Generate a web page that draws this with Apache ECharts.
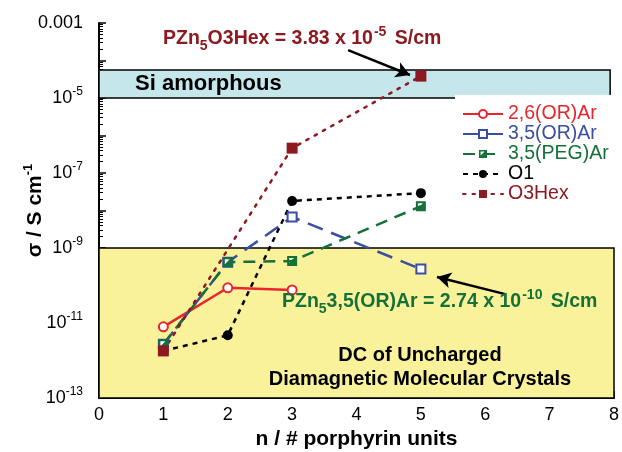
<!DOCTYPE html>
<html><head><meta charset="utf-8">
<script src="https://cdn.jsdelivr.net/npm/echarts@6/dist/echarts.min.js"></script>
<style>html,body{margin:0;padding:0;background:#fff}#c{width:622px;height:452px}</style>
</head><body><div id="c"></div>
<script>
// ---- data ----
const seriesNames = ['2,6(OR)Ar', '3,5(OR)Ar', '3,5(PEG)Ar', 'O1', 'O3Hex'];
const nOR26 = [1, 2, 3];
const sOR26 = [7.9e-12, 8.7e-11, 7.6e-11];
const nOR35 = [1, 2, 3, 5];
const sOR35 = [2.7e-12, 4.2e-10, 6.7e-9, 2.74e-10];
const nPEG = [1, 2, 3, 5];
const sPEG = [2.7e-12, 4.2e-10, 4.5e-10, 1.3e-8];
const nO1 = [1, 2, 3, 5];
const sO1 = [1.8e-12, 4.7e-12, 1.8e-8, 2.9e-8];
const nO3Hex = [1, 3, 5];
const sO3Hex = [1.8e-12, 4.6e-7, 3.83e-5];
const xTicks = [0, 1, 2, 3, 4, 5, 6, 7, 8];
const yLabelExps = [-13, -11, -9, -7, -5, -3];
const siBand = [1e-5, 5.6e-5];
const dcBand = [1e-13, 1e-9];

const FONT = '"Liberation Sans", Arial, Helvetica, sans-serif';
const pair = (xs, ys) => xs.map((x, i) => [x, ys[i]]);
const colors = ['#e8262b', '#3a4ea2', '#15703a', '#000000', '#8c1a20'];

const chart = echarts.init(document.getElementById('c'), null, {renderer: 'canvas'});
const halfSq = 'path://M0,0H10V10H0Z M2,2V7L7,2Z';

const option = {
  animation: false,
  backgroundColor: '#ffffff',
  grid: {left: 99, right: 8, top: 23, bottom: 54, containLabel: false, outerBoundsMode: 'none'},
  xAxis: {
    type: 'value', min: xTicks[0], max: xTicks[xTicks.length - 1], interval: 1,
    axisLine: {show: true, lineStyle: {color: '#000', width: 2}},
    axisTick: {show: true, inside: true, length: 7, lineStyle: {color: '#000', width: 1.5}},
    minorTick: {show: true, splitNumber: 5, length: 4, lineStyle: {color: '#000', width: 1}},
    splitLine: {show: false},
    axisLabel: {fontFamily: FONT, fontSize: 18, color: '#000', margin: 8},
    name: 'n / # porphyrin units', nameLocation: 'middle', nameGap: 31, nameMoveOverlap: false,
    nameTextStyle: {fontFamily: FONT, fontSize: 21, fontWeight: 'bold', color: '#000'}
  },
  yAxis: {
    type: 'log', logBase: 10, min: 1e-13, max: 1e-3,
    axisLine: {show: true, lineStyle: {color: '#000', width: 2}},
    axisTick: {show: true, inside: true, length: 7, lineStyle: {color: '#000', width: 1.5}},
    minorTick: {show: true, splitNumber: 9, length: 4, lineStyle: {color: '#000', width: 1}},
    splitLine: {show: false},
    axisLabel: {
      fontFamily: FONT, fontSize: 18, color: '#000', margin: 16,
      formatter: function (v) {
        const e = Math.round(Math.log10(v));
        if (yLabelExps.indexOf(e) < 0) return '';
        if (e === -3) return '{b|0.001}';
        return '{b|10}{s|' + e + '}';
      },
      rich: {
        b: {fontFamily: FONT, fontSize: 18, color: '#000'},
        s: {fontFamily: FONT, fontSize: 12, color: '#000', padding: [0, 0, 12, 0]}
      }
    },
    name: '{b|σ / S cm}{s|-1}', nameLocation: 'middle', nameGap: 50, nameRotate: 90, nameMoveOverlap: false,
    nameTextStyle: {
      rich: {
        b: {fontFamily: FONT, fontSize: 21, fontWeight: 'bold', color: '#000'},
        s: {fontFamily: FONT, fontSize: 13, fontWeight: 'bold', color: '#000', padding: [0, 0, 14, 0]}
      }
    }
  },
  legend: {
    orient: 'vertical', left: 455, top: 95, itemWidth: 40, itemHeight: 10, itemGap: 0,
    backgroundColor: '#fff', padding: [9, 8, 8, 7],
    textStyle: {fontFamily: FONT, fontSize: 19.5, lineHeight: 18},
    data: seriesNames.map((n, i) => ({name: n, textStyle: {color: colors[i]}}))
  },
  series: [
    {
      name: 'bands', type: 'line', data: [], silent: true, z: 1,
      markArea: {
        silent: true,
        data: [
          [{xAxis: 0, yAxis: siBand[0], itemStyle: {color: '#c5e6ea', borderColor: '#000', borderWidth: 1.5}},
           {xAxis: 7.94, yAxis: siBand[1]}],
          [{xAxis: 0, yAxis: dcBand[0], itemStyle: {color: '#faf29b', borderColor: '#000', borderWidth: 1.5}},
           {xAxis: 8, yAxis: dcBand[1]}]
        ]
      },
      markLine: {
        silent: true, symbol: ['none', 'arrow'], symbolSize: [12, 14],
        label: {show: false},
        lineStyle: {color: '#000', width: 2.5, type: 'solid'},
        data: [
          [{coord: [3.87, 1.9e-4]}, {coord: [4.83, 4.1e-5]}],
          [{coord: [6.31, 5.9e-11]}, {coord: [5.25, 1.69e-10]}]
        ]
      }
    },
    {
      name: seriesNames[0], type: 'line', data: pair(nOR26, sOR26), z: 3,
      color: colors[0], symbol: 'emptyCircle', symbolSize: 9,
      lineStyle: {width: 2.5, type: 'solid'}, itemStyle: {borderWidth: 2}
    },
    {
      name: seriesNames[1], type: 'line', data: pair(nOR35, sOR35), z: 3,
      color: colors[1], symbol: 'emptyRect', symbolSize: 9,
      lineStyle: {width: 2.5, type: [16, 9]}, itemStyle: {borderWidth: 1.8}
    },
    {
      name: seriesNames[2], type: 'line', data: pair(nPEG, sPEG), z: 3,
      color: colors[2], symbol: halfSq, symbolSize: 10,
      lineStyle: {width: 2.5, type: [12, 8]}
    },
    {
      name: seriesNames[3], type: 'line', data: pair(nO1, sO1), z: 3,
      color: colors[3], symbol: 'circle', symbolSize: 10,
      lineStyle: {width: 2.5, type: [5, 5]}
    },
    {
      name: seriesNames[4], type: 'line', data: pair(nO3Hex, sO3Hex), z: 3,
      color: colors[4], symbol: 'rect', symbolSize: 11,
      lineStyle: {width: 2.5, type: [2.5, 7], cap: 'round'}
    }
  ],
  graphic: [
    {
      type: 'text', left: 163, top: 25, z: 10,
      style: {
        text: '{a|PZn}{s|5}{a|O3Hex = 3.83 x 10}{p|-5}{a| S/cm}',
        rich: {
          a: {fontFamily: FONT, fontSize: 19.5, fontWeight: 'bold', fill: '#8c1a20'},
          s: {fontFamily: FONT, fontSize: 14, fontWeight: 'bold', fill: '#8c1a20', padding: [15, 0, 0, 0]},
          p: {fontFamily: FONT, fontSize: 14, fontWeight: 'bold', fill: '#8c1a20', padding: [0, 3, 13, 1]}
        }
      }
    },
    {
      type: 'text', left: 135, top: 73, z: 10,
      style: {text: 'Si amorphous', font: 'bold 22px ' + FONT, fill: '#000'}
    },
    {
      type: 'text', left: 282, top: 288, z: 10,
      style: {
        text: '{a|PZn}{s|5}{a|3,5(OR)Ar = 2.74 x 10}{p|-10}{a| S/cm}',
        rich: {
          a: {fontFamily: FONT, fontSize: 19.5, fontWeight: 'bold', fill: '#15703a'},
          s: {fontFamily: FONT, fontSize: 14, fontWeight: 'bold', fill: '#15703a', padding: [15, 0, 0, 0]},
          p: {fontFamily: FONT, fontSize: 14, fontWeight: 'bold', fill: '#15703a', padding: [0, 3, 13, 1]}
        }
      }
    },
    {
      type: 'text', x: 420, y: 343, z: 10,
      style: {
        text: 'DC of Uncharged\nDiamagnetic Molecular Crystals', align: 'center', verticalAlign: 'top',
        font: 'bold 20px ' + FONT, fill: '#000', lineHeight: 24
      }
    }
  ]
};
chart.setOption(option);
</script>
</body></html>
